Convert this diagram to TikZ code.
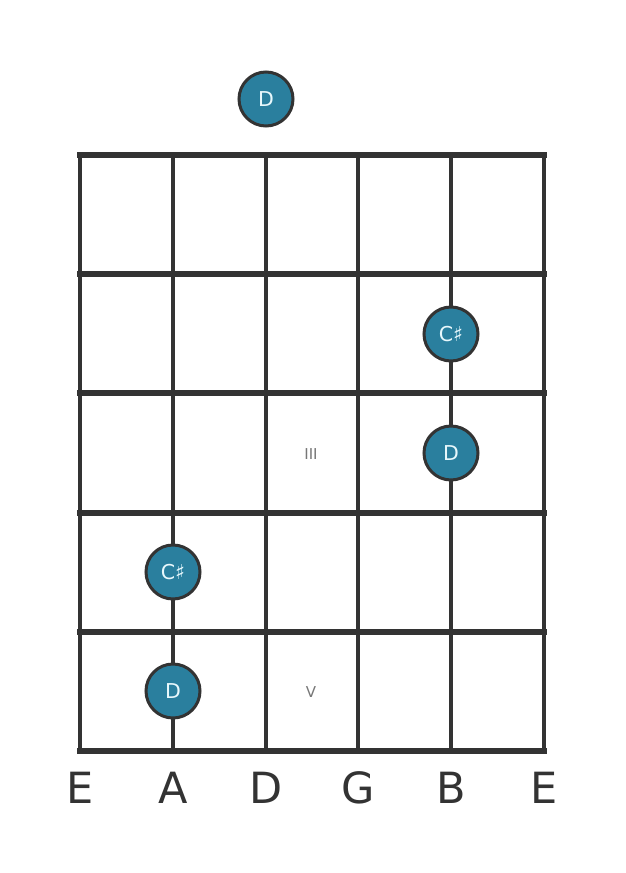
\documentclass[tikz,border=0pt]{standalone}
\usepackage{fontspec}
\setmainfont{DejaVu Sans}
\definecolor{dotfill}{HTML}{2A7F9E}
\definecolor{gridcol}{HTML}{333333}
\definecolor{dottext}{HTML}{E8F8FC}
\definecolor{romcol}{HTML}{777777}
\begin{document}
\begin{tikzpicture}[x=1pt,y=-1pt,
  stringline/.style={draw=gridcol,line width=3.2pt},
  fretline/.style={draw=gridcol,line width=6pt},
  notedot/.style={circle,draw=gridcol,line width=3pt,fill=dotfill,minimum size=54pt,inner sep=0pt,text=dottext,font=\fontsize{20.5}{20.5}\selectfont},
  roman/.style={text=romcol,font=\fontsize{15}{15}\selectfont},
  strname/.style={text=gridcol,font=\fontsize{43}{43}\selectfont,anchor=base}]
\useasboundingbox (0,0) rectangle (626,873);
\fill[white] (0,0) rectangle (626,873);
% strings
\foreach \x [count=\i] in {80,173,266,358,451,544}{
  \coordinate (st\i) at (\x,155);
  \coordinate (sb\i) at (\x,751);
  \draw[stringline] (st\i) -- (sb\i);
}
% frets
\foreach \y [count=\j] in {155,274,393,513,632,751}{
  \coordinate (fl\j) at (80,\y);
  \coordinate (fr\j) at (544,\y);
  \draw[fretline,line cap=rect] (fl\j) -- (fr\j);
}
% roman numerals
\node[roman] (r3) at (311,454) {III};
\node[roman] (r5) at (311,692) {V};
% notes
\node[notedot] (n0) at (266,99) {D};
\node[notedot] (n1) at (451,334) {C♯};
\node[notedot] (n2) at (451,453) {D};
\node[notedot] (n3) at (173,572) {C♯};
\node[notedot] (n4) at (173,691) {D};
% string names
\foreach \x/\n [count=\i] in {80/E,173/A,266/D,358/G,451/B,544/E}{
  \node[strname] (name\i) at (\x,803) {\n};
}
\end{tikzpicture}
\end{document}
